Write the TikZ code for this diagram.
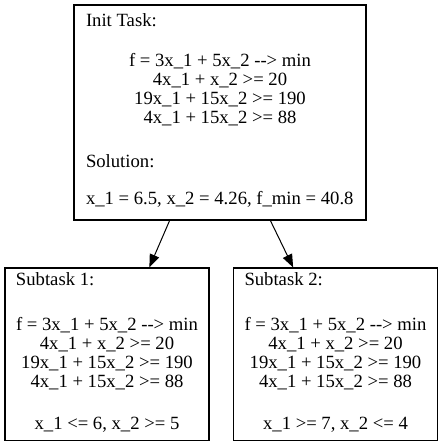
\documentclass[tikz,border=0pt]{standalone}
\usepackage{fontspec}
\setmainfont{Liberation Serif}
\usetikzlibrary{arrows.meta}

\begin{document}
\begin{tikzpicture}[x=1pt,y=-1pt,
  taskbox/.style={draw, line width=1.2pt, inner sep=0pt},
  tasktext/.style={anchor=north, inner sep=0pt, align=center, font=\fontsize{18.67pt}{19pt}\selectfont},
  link/.style={line width=1pt, -{Triangle[length=13pt,width=10pt]}}]
\useasboundingbox (0,0) rectangle (443,447);

% Init task
\node[taskbox, minimum width=292pt, minimum height=215pt] (init) at (220,112.5) {};
\node[tasktext] (initText) at (220,13) {\makebox[268pt][l]{Init Task:}\\[21.7pt]
f = 3x\_1 + 5x\_2 -{}-> min\\
4x\_1 + x\_2 >= 20\\
19x\_1 + 15x\_2 >= 190\\
4x\_1 + 15x\_2 >= 88\\[24.3pt]
\makebox[268pt][l]{Solution:}\\[18pt]
\makebox[268pt][l]{x\_1 = 6.5, x\_2 = 4.26, f\_min = 40.8}};

% Subtasks
\node[taskbox, minimum width=204pt, minimum height=172.5pt] (sub1) at (107,354.25) {};
\node[tasktext] (sub1Text) at (107,272.7) {\makebox[182pt][l]{Subtask 1:}\\[25.3pt]
f = 3x\_1 + 5x\_2 -{}-> min\\
4x\_1 + x\_2 >= 20\\
19x\_1 + 15x\_2 >= 190\\
4x\_1 + 15x\_2 >= 88\\[23.3pt]
x\_1 <= 6, x\_2 >= 5};

\node[taskbox, minimum width=204pt, minimum height=172.5pt] (sub2) at (335.5,354.25) {};
\node[tasktext] (sub2Text) at (335.5,272.7) {\makebox[182pt][l]{Subtask 2:}\\[25.3pt]
f = 3x\_1 + 5x\_2 -{}-> min\\
4x\_1 + x\_2 >= 20\\
19x\_1 + 15x\_2 >= 190\\
4x\_1 + 15x\_2 >= 88\\[23.3pt]
x\_1 >= 7, x\_2 <= 4};

% Branches
\draw[link] (init.245) -- (sub1.64.7);
\draw[link] (init.295.8) -- (sub2.116.1);
\end{tikzpicture}
\end{document}
